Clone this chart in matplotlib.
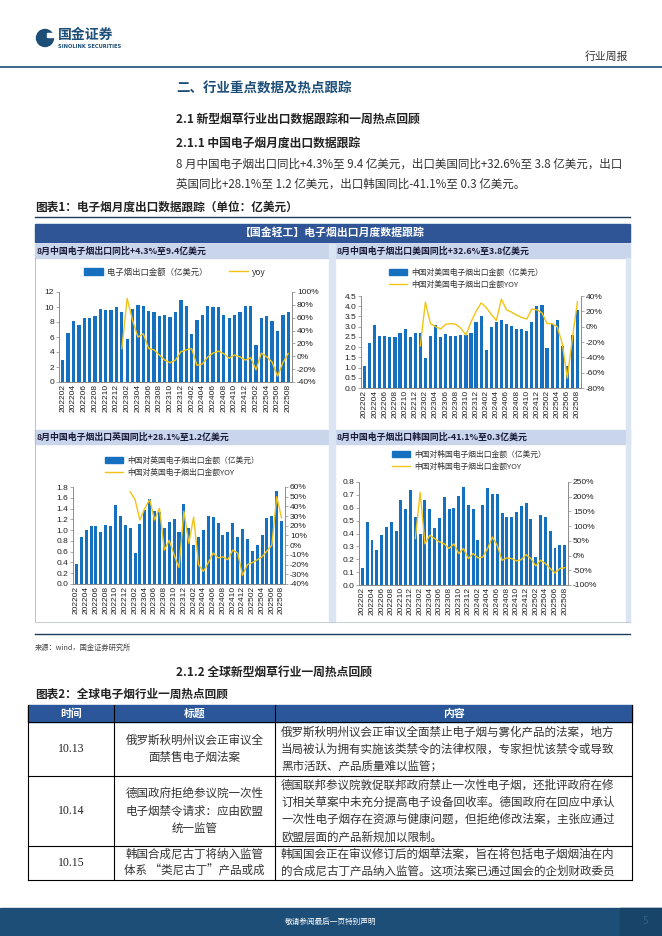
import numpy as np
import matplotlib
matplotlib.use("Agg")
import matplotlib.pyplot as plt
from matplotlib.patches import Rectangle, Patch, Circle
from matplotlib.lines import Line2D
from matplotlib.ticker import FuncFormatter, MultipleLocator

plt.rcParams['font.family'] = ['Noto Sans CJK SC', 'DejaVu Sans']

# monthly categories 202202 - 202508
months = ["202202", "202203", "202204", "202205", "202206", "202207", "202208",
          "202209", "202210", "202211", "202212",
          "202301", "202302", "202303", "202304", "202305", "202306", "202307",
          "202308", "202309", "202310", "202311", "202312",
          "202401", "202402", "202403", "202404", "202405", "202406", "202407",
          "202408", "202409", "202410", "202411", "202412",
          "202501", "202502", "202503", "202504", "202505", "202506", "202507",
          "202508"]

# export values (亿美元)
export_total = [3.0, 6.6, 8.1, 7.6, 8.5, 8.6, 8.8, 9.8, 9.6, 9.6, 10.0,
                9.4, 5.8, 9.8, 10.3, 10.1, 9.5, 9.3, 8.8, 9.0, 8.7, 9.4, 11.0,
                10.2, 6.4, 8.3, 8.9, 10.1, 10.0, 10.0, 9.0, 8.6, 8.9, 9.4, 10.1,
                10.1, 5.0, 8.6, 8.8, 8.1, 6.8, 8.9, 9.4]
export_us = [1.1, 2.2, 3.1, 2.55, 2.55, 2.5, 2.48, 2.68, 2.9, 2.5, 2.7,
             2.7, 1.45, 2.55, 3.1, 2.5, 2.65, 2.55, 2.55, 2.58, 2.58, 2.68, 3.25,
             3.5, 1.85, 3.0, 3.25, 3.35, 3.15, 3.05, 2.9, 2.9, 2.8, 3.25, 4.0,
             4.05, 1.95, 3.15, 3.35, 2.05, 1.1, 2.6, 3.8]
export_uk = [0.38, 0.88, 1.0, 1.07, 1.07, 0.97, 1.09, 1.08, 1.47, 1.26, 1.1,
             1.03, 0.57, 1.11, 1.37, 1.58, 1.35, 1.33, 1.03, 1.15, 1.2, 0.96, 1.49,
             1.04, 0.73, 0.87, 1.01, 1.27, 1.24, 1.14, 0.91, 0.96, 1.13, 0.88, 1.02,
             0.84, 0.61, 0.73, 0.91, 1.23, 1.26, 1.73, 1.16]
export_kr = [0.13, 0.49, 0.35, 0.27, 0.39, 0.45, 0.49, 0.42, 0.66, 0.59, 0.74,
             0.53, 0.40, 0.66, 0.59, 0.44, 0.52, 0.68, 0.59, 0.60, 0.69, 0.76, 0.62,
             0.59, 0.35, 0.62, 0.75, 0.71, 0.71, 0.56, 0.53, 0.53, 0.57, 0.61, 0.64,
             0.51, 0.22, 0.54, 0.53, 0.42, 0.29, 0.31, 0.31]

# yoy (%), starts at 202301
yoy_total = [12, 90, 56, 30, 35, 12, 10, 2, -6, -10, -6, 7,
             10, 12, -14, -12, -1, 5, 8, 4, -3, 2, -1, -6,
             -2, -21, 5, -1, -9, -31, -10, 4.3]
yoy_us = [-25, 32, 4, 0, -3, 3, 4, 3, -2, -11, 6, 20,
          31, 25, 16, 8, 36, 22, 19, 15, 12, 10, 23, 22,
          18, 4, 4, 0, -22, -67, -15, 32.6]
yoy_uk = [55, 47, 26, 38, 47, 26, 38, -5, 5, -10, -23, 35,
          2, 29, -20, -27, -18, -8, -13, -12, -15, -5, -8, -31,
          -20, -18, -15, -12, -6, 0, 50, 28.1]
yoy_kr = [58, 215, 40, 69, 58, 46, 40, 24, 40, 7, 24, -10,
          7, -8, -5, 24, 63, 35, -16, -8, -10, -18, -14, 3,
          -10, -35, -16, -27, -44, -59, -44, -41.1]

W, H = 662, 936
BAR = "#1570c0"
LINE = "#f2c316"
NAVY = "#1c4e78"
BAND = "#2f5597"
LIGHT = "#c8d5ea"
SPINE = "#8c8c8c"


def frac(x0, y0, x1, y1):
    return [x0 / W, 1 - y1 / H, (x1 - x0) / W, (y1 - y0) / H]


fig = plt.figure(figsize=(W / 100, H / 100), dpi=100)
page = fig.add_axes([0, 0, 1, 1])
page.set_xlim(0, W)
page.set_ylim(H, 0)
page.axis("off")


def txt(x, y, s, size=7.5, **kw):
    kw.setdefault("va", "center")
    kw.setdefault("color", "#222222")
    page.text(x, y, s, fontsize=size, **kw)


def rect(x0, y0, x1, y1, **kw):
    page.add_patch(Rectangle((x0, y0), x1 - x0, y1 - y0, **kw))


# header
page.add_patch(Circle((45, 38), 8.5, color=NAVY))
rect(47, 33, 54, 37, color="white")
txt(58, 35, "国金证券", 10, fontweight="bold", color=NAVY)
txt(58, 46, "SINOLINK SECURITIES", 3.7, fontweight="bold", color=NAVY,
    family="DejaVu Sans")
txt(628, 57, "行业周报", 7.8, ha="right", color="#333333")
page.plot([0, W], [67, 67], color=NAVY, lw=1.2)

txt(176, 88, "二、行业重点数据及热点跟踪", 9.7, fontweight="bold", color=NAVY)
txt(176, 119, "2.1 新型烟草行业出口数据跟踪和一周热点回顾", 8.5, fontweight="bold")
txt(176, 143, "2.1.1 中国电子烟月度出口数据跟踪", 8.5, fontweight="bold")
txt(176, 164, "8 月中国电子烟出口同比+4.3%至 9.4 亿美元，出口美国同比+32.6%至 3.8 亿美元，出口",
    8.3, color="#333333")
txt(176, 184, "英国同比+28.1%至 1.2 亿美元，出口韩国同比-41.1%至 0.3 亿美元。", 8.3,
    color="#333333")
txt(35, 207, "图表1：电子烟月度出口数据跟踪（单位：亿美元）", 8.4, fontweight="bold")
page.plot([35, 630], [217, 217], color="#1f3c5a", lw=1)

# chart panel frame
rect(35, 224, 630, 242, color=BAND)
txt(332, 233, "【国金轻工】电子烟出口月度数据跟踪", 7.8, ha="center",
    color="white", fontweight="bold")
rect(35, 244, 329, 258, color=LIGHT)
rect(333, 244, 630, 258, color=LIGHT)
rect(35, 430, 329, 444, color=LIGHT)
rect(333, 430, 630, 444, color=LIGHT)
rect(329, 244, 335, 622, color="#dbe4f2")
rect(626, 258, 630, 622, color="#dbe4f2")
page.plot([35, 35], [258, 622], color="#b0b8c4", lw=0.6)
page.plot([35, 630], [622, 622], color="#c0c6cf", lw=0.6)
sub = dict(fontweight="bold", color="#1a1a3a")
txt(37, 251, "8月中国电子烟出口同比+4.3%至9.4亿美元", 6.4, **sub)
txt(337, 251, "8月中国电子烟出口美国同比+32.6%至3.8亿美元", 6.4, **sub)
txt(37, 437, "8月中国电子烟出口英国同比+28.1%至1.2亿美元", 6.4, **sub)
txt(337, 437, "8月中国电子烟出口韩国同比-41.1%至0.3亿美元", 6.4, **sub)
page.plot([35, 630], [634, 634], color="#1f3c5a", lw=1)
txt(35, 648, "来源：wind，国金证券研究所", 5.2, color="#444444")


def export_chart(box, bars, yoy, left_max, left_step, left_fmt, rlim, rstep):
    ax = fig.add_axes(frac(*box))
    ax.set_facecolor("none")
    x = np.arange(len(months))
    ax.bar(x, bars, width=0.62, color=BAR, zorder=2)
    ax.set_xlim(-0.7, len(months) - 0.3)
    ax.set_ylim(0, left_max)
    ax.yaxis.set_major_locator(MultipleLocator(left_step))
    ax.yaxis.set_major_formatter(FuncFormatter(lambda v, _: left_fmt.format(v)))
    ax.set_xticks(x[::2])
    ax.set_xticklabels(months[::2], rotation=90)
    ax2 = ax.twinx()
    ax2.plot(x[11:], yoy, color=LINE, lw=1.0)
    ax2.set_ylim(*rlim)
    ax2.yaxis.set_major_locator(MultipleLocator(rstep))
    ax2.yaxis.set_major_formatter(FuncFormatter(lambda v, _: f"{v:.0f}%"))
    for a in (ax, ax2):
        a.spines["top"].set_visible(False)
        for s in ("left", "right", "bottom"):
            a.spines[s].set_color(SPINE)
            a.spines[s].set_linewidth(0.6)
        a.tick_params(labelsize=6, length=2, width=0.5, color=SPINE, pad=1.5,
                      labelcolor="#222222")
        for lab in a.get_xticklabels() + a.get_yticklabels():
            lab.set_fontfamily("Liberation Sans")
    ax.tick_params(axis="x", length=0)
    return ax2


def legend(ax, labels, anchor, ncol, loc="center left", size=5.6):
    handles = [Patch(color=BAR), Line2D([], [], color=LINE, lw=1)]
    leg = ax.legend(handles, labels, loc=loc,
                    bbox_to_anchor=(anchor[0] / W, 1 - anchor[1] / H),
                    bbox_transform=fig.transFigure, ncol=ncol, frameon=False,
                    fontsize=size, handlelength=2.3, handleheight=0.8,
                    handletextpad=0.5, columnspacing=2.5, borderaxespad=0,
                    borderpad=0, labelspacing=0.55)
    for t in leg.get_texts():
        t.set_color("#333333")


a = export_chart((59, 292, 292, 382), export_total, yoy_total, 12, 2, "{:.0f}",
                 (-40, 100), 20)
legend(a, ["电子烟出口金额（亿美元）", "yoy"], (175, 272), 2, loc="center", size=6)

a = export_chart((361, 296, 581, 388), export_us, yoy_us, 4.5, 0.5, "{:.1f}",
                 (-80, 40), 20)
legend(a, ["中国对美国电子烟出口金额（亿美元）", "中国对美国电子烟出口金额YOY"],
       (389, 279), 1)

a = export_chart((73, 487, 285, 584), export_uk, yoy_uk, 1.8, 0.2, "{:.1f}",
                 (-40, 60), 10)
legend(a, ["中国对英国电子烟出口金额（亿美元）", "中国对英国电子烟出口金额YOY"],
       (105, 467), 1)

a = export_chart((359, 482, 568, 585), export_kr, yoy_kr, 0.8, 0.1, "{:.1f}",
                 (-100, 250), 50)
legend(a, ["中国对韩国电子烟出口金额（亿美元）", "中国对韩国电子烟出口金额YOY"],
       (392, 461), 1)

# section 2.1.2 and table
txt(176, 672, "2.1.2 全球新型烟草行业一周热点回顾", 8.5, fontweight="bold")
txt(35, 694, "图表2：全球电子烟行业一周热点回顾", 8.4, fontweight="bold")

col_x = [28, 114, 275, 632]
row_y = [705, 722, 776, 846, 880]
dates = ["10.13", "10.14", "10.15"]
titles = [["俄罗斯秋明州议会正审议全", "面禁售电子烟法案"],
          ["德国政府拒绝参议院一次性", "电子烟禁令请求：应由欧盟", "统一监管"],
          ["韩国合成尼古丁将纳入监管", "体系 “类尼古丁”产品或成"]]
contents = [["俄罗斯秋明州议会正审议全面禁止电子烟与雾化产品的法案，地方",
             "当局被认为拥有实施该类禁令的法律权限，专家担忧该禁令或导致",
             "黑市活跃、产品质量难以监管；"],
            ["德国联邦参议院敦促联邦政府禁止一次性电子烟，还批评政府在修",
             "订相关草案中未充分提高电子设备回收率。德国政府在回应中承认",
             "一次性电子烟存在资源与健康问题，但拒绝修改法案，主张应通过",
             "欧盟层面的产品新规加以限制。"],
            ["韩国国会正在审议修订后的烟草法案，旨在将包括电子烟烟油在内",
             "的合成尼古丁产品纳入监管。这项法案已通过国会的企划财政委员"]]

rect(col_x[0], row_y[0], col_x[3], row_y[1], color="#2b579a")
for cx0, cx1, head in zip(col_x[:-1], col_x[1:], ["时间", "标题", "内容"]):
    txt((cx0 + cx1) / 2, (row_y[0] + row_y[1]) / 2, head, 7.8, ha="center",
        color="white", fontweight="bold")
for y in row_y[1:]:
    page.plot([col_x[0], col_x[3]], [y, y], color="black", lw=0.8)
for x in col_x:
    page.plot([x, x], [row_y[0], row_y[-1]], color="black", lw=0.8)

step = 17.3
for i in range(3):
    y0, y1 = row_y[i + 1], row_y[i + 2]
    mid = (y0 + y1) / 2
    txt((col_x[0] + col_x[1]) / 2, mid, dates[i], 8.5, ha="center",
        family="Liberation Serif")
    n = len(titles[i])
    for k, line in enumerate(titles[i]):
        txt((col_x[1] + col_x[2]) / 2, mid + (k - (n - 1) / 2) * step, line, 8.3,
            ha="center", color="#333333")
    n = len(contents[i])
    for k, line in enumerate(contents[i]):
        txt(col_x[2] + 6, mid + (k - (n - 1) / 2) * step, line, 8.3,
            color="#333333")

# footer
rect(0, 908, W, H, color=NAVY)
rect(620, 908, W, H, color="#174468")
txt(331, 922, "敬请参阅最后一页特别声明", 5.5, ha="center", color="white")
txt(645, 921, "5", 7, ha="center", color="#2f6490")

fig.savefig("out.png", dpi=100)
